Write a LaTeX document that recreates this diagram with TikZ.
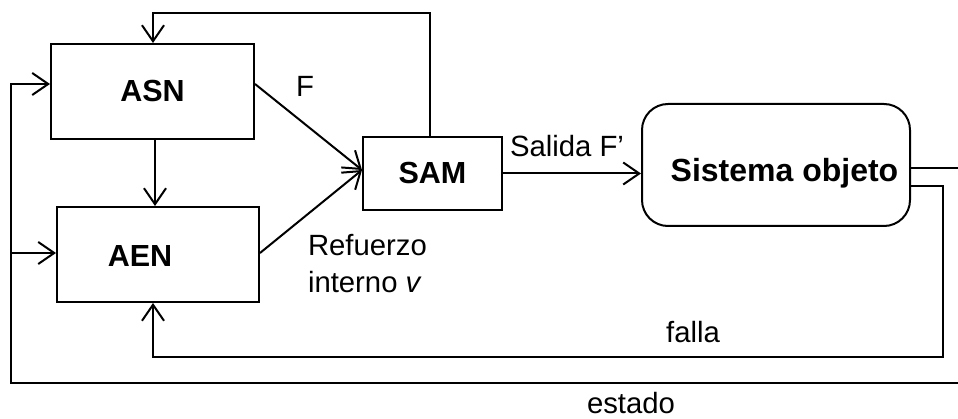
\documentclass[tikz,border=0pt]{standalone}
\usepackage{fontspec}
\setmainfont{Liberation Sans}
\usetikzlibrary{arrows.meta}
\begin{document}
\begin{tikzpicture}[x=1pt,y=-1pt, line width=2pt,
  arr/.style={-{Straight Barb[length=16pt,width=22pt,line width=2pt]}},
  box/.style={draw, rectangle, inner sep=0pt},
  bold/.style={font=\fontsize{30.5}{36}\selectfont\bfseries},
  lbl/.style={font=\fontsize{29.3}{37}\selectfont, inner sep=0pt}]
\useasboundingbox (0,0) rectangle (958,419);
% blocks
\node[box, bold, minimum width=203pt, minimum height=95pt] (asn) at (152.5,91.5) {ASN};
\node[box, minimum width=202pt, minimum height=95pt] (aen) at (158,254.5) {};
\node[bold, inner sep=0pt, anchor=base] (aent) at (140,267) {AEN};
\node[box, bold, minimum width=139pt, minimum height=73pt] (sam) at (432.5,173.5) {SAM};
\node[box, rounded corners=26pt, minimum width=268pt, minimum height=122pt] (sis) at (776,165) {};
\node[font=\fontsize{32}{38}\selectfont\bfseries, inner sep=0pt, anchor=base] (sist) at (784.5,182) {Sistema objeto};
% coordinates
\coordinate (topc) at (153,13);
\coordinate (outR) at (958,168);
\coordinate (fallaC) at (943,357);
\coordinate (estR) at (958,383);
\coordinate (estL) at (11,383);
\coordinate (aenw) at ([yshift=1.5pt]aen.west);
\coordinate (samw) at ([yshift=3.5pt]sam.west);
% connectors
\draw[arr] ([xshift=-2.5pt]sam.north) |- (topc) -- (topc |- asn.north);
\draw[arr] ([xshift=2.5pt]asn.south) -- ([xshift=2.5pt]asn.south |- aen.north);
\draw[arr] ([yshift=7.5pt]asn.east) -- (samw);
\draw[arr] ([yshift=1.5pt]aen.east) -- (samw);
\draw[arr] (sam.east) -- (sam.east -| sis.west);
\draw ([yshift=-3pt]sis.east) -- (outR);
\draw[arr] ([yshift=-21pt]sis.east) -| (fallaC) -| ([xshift=-5pt]aen.south);
\draw[arr] (estR) -- (estL) |- ([yshift=7.5pt]asn.west);
\draw[arr] (estL |- aenw) -- (aenw);
% labels
\node[lbl, anchor=base] (lf) at (305,97) {F};
\node[lbl, anchor=base] (lsal) at (567,157) {Salida F’};
\node[lbl, align=left, anchor=north west] (lref) at (307,233) {Refuerzo\\interno \textit{v}};
\node[lbl, anchor=base] (lfalla) at (693,342) {falla};
\node[lbl, anchor=base] (lest) at (631,413.5) {estado};
\end{tikzpicture}
\end{document}
